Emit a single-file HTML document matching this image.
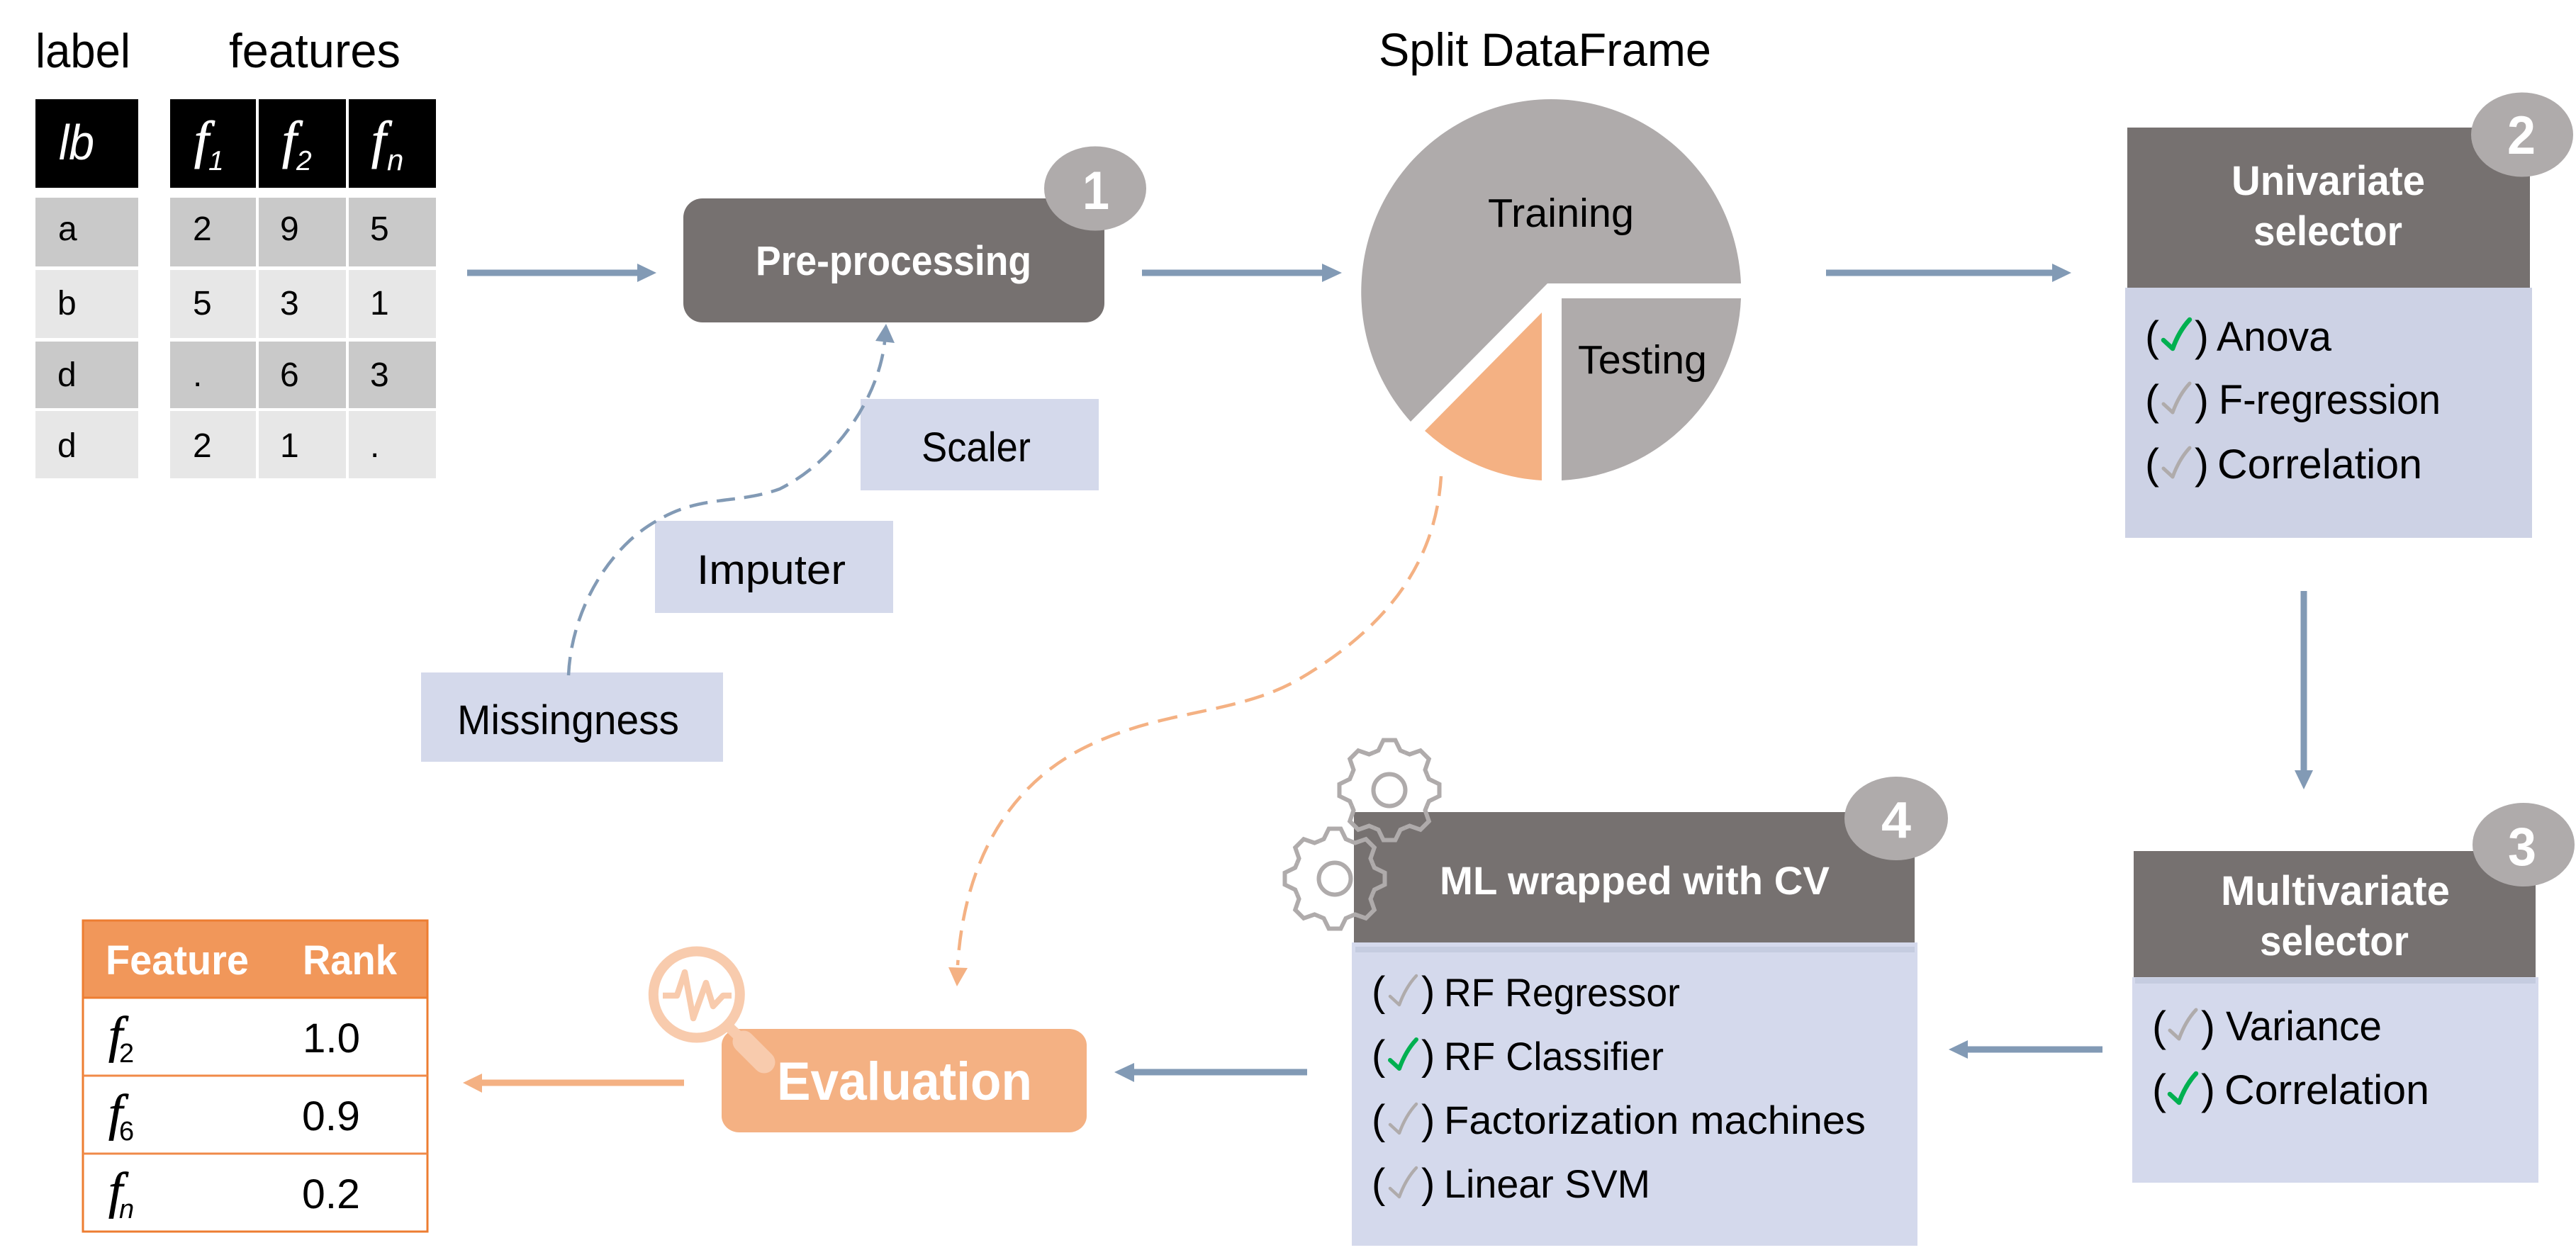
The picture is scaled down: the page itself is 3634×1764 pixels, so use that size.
<!DOCTYPE html>
<html><head><meta charset="utf-8"><title>Feature selection pipeline</title>
<style>
html,body{margin:0;padding:0;background:#fff}
svg{display:block}
text{font-family:"Liberation Sans",sans-serif;fill:#000}
.w{fill:#fff;font-weight:bold}
.i{font-style:italic}
.s{font-family:"Liberation Serif",serif;font-style:italic}
</style></head><body>
<svg xmlns="http://www.w3.org/2000/svg" width="3634" height="1764" viewBox="0 0 3634 1764">
<defs>
<path id="chk" fill="none" stroke-linecap="round" stroke-linejoin="round" d="M-13,-14 L0,-2 Q9,-27 24,-43"/>
<g id="gear" fill="none" stroke="#afabab" stroke-width="6" stroke-linejoin="miter">
<polyline points="-22,-53.1 -15.5,-55.9 -8.4,-70.5 8.4,-70.5 15.5,-55.9 22,-53.1"/>
<polyline transform="rotate(45)" points="-22,-53.1 -15.5,-55.9 -8.4,-70.5 8.4,-70.5 15.5,-55.9 22,-53.1"/>
<polyline transform="rotate(90)" points="-22,-53.1 -15.5,-55.9 -8.4,-70.5 8.4,-70.5 15.5,-55.9 22,-53.1"/>
<polyline transform="rotate(135)" points="-22,-53.1 -15.5,-55.9 -8.4,-70.5 8.4,-70.5 15.5,-55.9 22,-53.1"/>
<polyline transform="rotate(180)" points="-22,-53.1 -15.5,-55.9 -8.4,-70.5 8.4,-70.5 15.5,-55.9 22,-53.1"/>
<polyline transform="rotate(225)" points="-22,-53.1 -15.5,-55.9 -8.4,-70.5 8.4,-70.5 15.5,-55.9 22,-53.1"/>
<polyline transform="rotate(270)" points="-22,-53.1 -15.5,-55.9 -8.4,-70.5 8.4,-70.5 15.5,-55.9 22,-53.1"/>
<polyline transform="rotate(315)" points="-22,-53.1 -15.5,-55.9 -8.4,-70.5 8.4,-70.5 15.5,-55.9 22,-53.1"/>
<circle r="22.5"/>
</g>
</defs>

<!-- Data table -->
<text x="50" y="95" font-size="68" textLength="134" lengthAdjust="spacingAndGlyphs">label</text>
<text x="323" y="95" font-size="68" textLength="242" lengthAdjust="spacingAndGlyphs">features</text>
<rect x="50" y="140" width="145" height="125" fill="#000"/>
<rect x="240" y="140" width="121" height="125" fill="#000"/>
<rect x="365" y="140" width="123" height="125" fill="#000"/>
<rect x="492" y="140" width="123" height="125" fill="#000"/>
<g fill="#c9c9c9">
<rect x="50" y="279" width="145" height="97"/><rect x="240" y="279" width="121" height="97"/><rect x="365" y="279" width="123" height="97"/><rect x="492" y="279" width="123" height="97"/>
<rect x="50" y="482" width="145" height="94"/><rect x="240" y="482" width="121" height="94"/><rect x="365" y="482" width="123" height="94"/><rect x="492" y="482" width="123" height="94"/>
</g>
<g fill="#e7e7e7">
<rect x="50" y="381" width="145" height="96"/><rect x="240" y="381" width="121" height="96"/><rect x="365" y="381" width="123" height="96"/><rect x="492" y="381" width="123" height="96"/>
<rect x="50" y="580" width="145" height="95"/><rect x="240" y="580" width="121" height="95"/><rect x="365" y="580" width="123" height="95"/><rect x="492" y="580" width="123" height="95"/>
</g>
<text class="i" x="83" y="225" font-size="70" style="fill:#fff" textLength="50" lengthAdjust="spacingAndGlyphs">lb</text>
<text class="s" x="274" y="222" font-size="74" style="fill:#fff;stroke:#fff;stroke-width:1">f</text>
<text class="i" x="294" y="240" font-size="39" style="fill:#fff">1</text>
<text class="s" x="398" y="222" font-size="74" style="fill:#fff;stroke:#fff;stroke-width:1">f</text>
<text class="i" x="418" y="240" font-size="39" style="fill:#fff">2</text>
<text class="s" x="524" y="222" font-size="74" style="fill:#fff;stroke:#fff;stroke-width:1">f</text>
<text class="i" x="546" y="240" font-size="42" style="fill:#fff">n</text>
<g font-size="48">
<text x="82" y="339">a</text><text x="272" y="339">2</text><text x="395" y="339">9</text><text x="522" y="339">5</text>
<text x="81" y="444">b</text><text x="272" y="444">5</text><text x="395" y="444">3</text><text x="522" y="444">1</text>
<text x="81" y="545">d</text><text x="272" y="545">.</text><text x="395" y="545">6</text><text x="522" y="545">3</text>
<text x="81" y="645">d</text><text x="272" y="645">2</text><text x="395" y="645">1</text><text x="522" y="645">.</text>
</g>

<!-- Flow arrows -->
<g fill="#829ab5">
<rect x="659" y="380.5" width="241" height="9"/><polygon points="899,372 926,385 899,398"/>
<rect x="1611" y="380.5" width="255" height="9"/><polygon points="1865,372 1893,385 1865,398"/>
<rect x="2576" y="380.5" width="320" height="9"/><polygon points="2895,372 2922,385 2895,398"/>
<rect x="3245.5" y="834" width="9" height="254"/><polygon points="3237,1087 3263,1087 3250,1114"/>
<rect x="2775" y="1476.5" width="191" height="9"/><polygon points="2776,1468 2776,1494 2749,1481"/>
<rect x="1599" y="1508.5" width="245" height="9"/><polygon points="1600,1500 1600,1527 1572,1513"/>
</g>

<!-- Pre-processing -->
<rect x="964" y="280" width="594" height="175" rx="27" ry="27" fill="#767170"/>
<ellipse cx="1545" cy="266" rx="72" ry="59.5" fill="#afabab"/>
<text class="w" x="1527" y="295" font-size="76" textLength="38" lengthAdjust="spacingAndGlyphs">1</text>
<text class="w" x="1066" y="388" font-size="58" textLength="389" lengthAdjust="spacingAndGlyphs">Pre-processing</text>

<g fill="#d4d9eb">
<rect x="1214" y="563" width="336" height="129"/>
<rect x="924" y="735" width="336" height="130"/>
<rect x="594" y="949" width="426" height="126"/>
</g>
<text x="1300" y="651" font-size="58" textLength="154" lengthAdjust="spacingAndGlyphs">Scaler</text>
<text x="983" y="824" font-size="58" textLength="210" lengthAdjust="spacingAndGlyphs">Imputer</text>
<text x="645" y="1036" font-size="58" textLength="313" lengthAdjust="spacingAndGlyphs">Missingness</text>

<path d="M802,953 C806,860 860,770 930,733 C990,698 1040,712 1100,690 C1180,650 1240,560 1248,482" fill="none" stroke="#829ab5" stroke-width="4.5" stroke-dasharray="26 13"/>
<polygon points="1250,457 1235,481 1262,484" fill="#829ab5"/>

<!-- Pie -->
<text x="1945" y="93" font-size="66" textLength="469" lengthAdjust="spacingAndGlyphs">Split DataFrame</text>
<path d="M2183,400 L2456,400 A268,272 0 1 0 1990,595 Z" fill="#afabab"/>
<path d="M2203,421 L2456,421 A268,268 0 0 1 2203,678 Z" fill="#afabab"/>
<path d="M2175,441 L2175,678 A268,268 0 0 1 2010,608 Z" fill="#f4b183"/>
<text x="2099" y="320" font-size="57" textLength="206" lengthAdjust="spacingAndGlyphs">Training</text>
<text x="2226" y="527" font-size="57" textLength="182" lengthAdjust="spacingAndGlyphs">Testing</text>

<path d="M2033,672 C2025,800 1950,890 1830,960 C1740,1010 1640,1000 1530,1055 C1420,1110 1360,1220 1351,1362" fill="none" stroke="#f4b183" stroke-width="4.5" stroke-dasharray="28 14"/>
<polygon points="1338,1365 1365,1366 1350,1392" fill="#f4b183"/>

<!-- Univariate -->
<rect x="3001" y="180" width="568" height="226" fill="#767170"/>
<rect x="2998" y="406" width="574" height="353" fill="#cdd2e5"/>
<ellipse cx="3558" cy="190" rx="72" ry="59.5" fill="#afabab"/>
<text class="w" x="3537" y="217" font-size="76" textLength="40" lengthAdjust="spacingAndGlyphs">2</text>
<text class="w" x="3148" y="275" font-size="58" textLength="273" lengthAdjust="spacingAndGlyphs">Univariate</text>
<text class="w" x="3179" y="346" font-size="58" textLength="210" lengthAdjust="spacingAndGlyphs">selector</text>
<g font-size="60">
<text x="3026" y="495">(</text><text x="3096" y="495">)</text>
<text x="3026" y="585">(</text><text x="3096" y="585">)</text>
<text x="3026" y="675">(</text><text x="3096" y="675">)</text>
</g>
<use href="#chk" x="3065" y="494" stroke="#00b050" stroke-width="6.5"/>
<use href="#chk" x="3065" y="584" stroke="#afabab" stroke-width="5"/>
<use href="#chk" x="3065" y="675" stroke="#afabab" stroke-width="5"/>
<text x="3127" y="495" font-size="58" textLength="162" lengthAdjust="spacingAndGlyphs">Anova</text>
<text x="3130" y="584" font-size="58" textLength="313" lengthAdjust="spacingAndGlyphs">F-regression</text>
<text x="3128" y="675" font-size="58" textLength="289" lengthAdjust="spacingAndGlyphs">Correlation</text>

<!-- Multivariate -->
<rect x="3010" y="1201" width="567" height="178" fill="#767170"/>
<rect x="3008" y="1379" width="573" height="290" fill="#d4d9ec"/>
<rect x="3012" y="1380" width="565" height="8" fill="#c5cce0"/>
<ellipse cx="3560" cy="1192" rx="72" ry="59" fill="#afabab"/>
<text class="w" x="3538" y="1221" font-size="76" textLength="40" lengthAdjust="spacingAndGlyphs">3</text>
<text class="w" x="3133" y="1277" font-size="58" textLength="323" lengthAdjust="spacingAndGlyphs">Multivariate</text>
<text class="w" x="3188" y="1348" font-size="58" textLength="210" lengthAdjust="spacingAndGlyphs">selector</text>
<g font-size="60">
<text x="3036" y="1469">(</text><text x="3105" y="1469">)</text>
<text x="3036" y="1558">(</text><text x="3105" y="1558">)</text>
</g>
<use href="#chk" x="3074" y="1468" stroke="#afabab" stroke-width="5"/>
<use href="#chk" x="3074" y="1558" stroke="#00b050" stroke-width="6.5"/>
<text x="3140" y="1468" font-size="58" textLength="220" lengthAdjust="spacingAndGlyphs">Variance</text>
<text x="3138" y="1558" font-size="58" textLength="289" lengthAdjust="spacingAndGlyphs">Correlation</text>

<!-- ML -->
<rect x="1910" y="1146" width="791" height="184" fill="#767170"/>
<rect x="1907" y="1330" width="798" height="428" fill="#d4d9ec"/>
<rect x="1912" y="1336" width="789" height="8" fill="#c5cce0"/>
<use href="#gear" transform="translate(1960,1115)"/>
<use href="#gear" transform="translate(1883,1240)"/>
<ellipse cx="2675" cy="1155" rx="73" ry="59" fill="#afabab"/>
<text class="w" x="2654" y="1182" font-size="72" textLength="42" lengthAdjust="spacingAndGlyphs">4</text>
<text class="w" x="2031" y="1262" font-size="56" textLength="550" lengthAdjust="spacingAndGlyphs">ML wrapped with CV</text>
<g font-size="58">
<text x="1935" y="1419">(</text><text x="2005" y="1419">)</text>
<text x="1935" y="1509">(</text><text x="2005" y="1509">)</text>
<text x="1935" y="1600">(</text><text x="2005" y="1600">)</text>
<text x="1935" y="1690">(</text><text x="2005" y="1690">)</text>
</g>
<use href="#chk" x="1974" y="1420" stroke="#afabab" stroke-width="4.5"/>
<use href="#chk" x="1974" y="1510" stroke="#00b050" stroke-width="6"/>
<use href="#chk" x="1974" y="1601" stroke="#afabab" stroke-width="4.5"/>
<use href="#chk" x="1974" y="1691" stroke="#afabab" stroke-width="4.5"/>
<text x="2037" y="1420" font-size="56" textLength="333" lengthAdjust="spacingAndGlyphs">RF Regressor</text>
<text x="2037" y="1510" font-size="56" textLength="310" lengthAdjust="spacingAndGlyphs">RF Classifier</text>
<text x="2037" y="1600" font-size="56" textLength="595" lengthAdjust="spacingAndGlyphs">Factorization machines</text>
<text x="2037" y="1690" font-size="56" textLength="291" lengthAdjust="spacingAndGlyphs">Linear SVM</text>

<!-- Evaluation -->
<rect x="1018" y="1452" width="515" height="146" rx="25" ry="23" fill="#f4b183"/>
<g stroke="#f8cbad" fill="none">
<circle cx="982.8" cy="1403.5" r="61" stroke-width="14" fill="#fff"/>
<line x1="1028" y1="1449" x2="1050" y2="1470" stroke-width="15"/>
<line x1="1049" y1="1470" x2="1078" y2="1499" stroke-width="31" stroke-linecap="round"/>
<polyline points="935,1405 955,1405 966,1372 978,1437 996,1387 1006,1420 1020,1405 1032,1405" stroke-width="8.5" stroke-linejoin="round"/>
</g>
<text class="w" x="1096" y="1552" font-size="76" textLength="360" lengthAdjust="spacingAndGlyphs">Evaluation</text>
<rect x="680" y="1523.5" width="285" height="9" fill="#f4b183"/>
<polygon points="680,1515 680,1542 653,1528" fill="#f4b183"/>

<!-- Rank table -->
<rect x="117" y="1299" width="486" height="109" fill="#f1975a"/>
<rect x="117" y="1299" width="486" height="439" fill="none" stroke="#ed7d31" stroke-width="3"/>
<line x1="117" y1="1408" x2="603" y2="1408" stroke="#ed7d31" stroke-width="3"/>
<line x1="117" y1="1518" x2="603" y2="1518" stroke="#f08a48" stroke-width="3"/>
<line x1="117" y1="1628" x2="603" y2="1628" stroke="#f08a48" stroke-width="3"/>
<text class="w" x="149" y="1375" font-size="58" textLength="202" lengthAdjust="spacingAndGlyphs">Feature</text>
<text class="w" x="427" y="1375" font-size="58" textLength="133" lengthAdjust="spacingAndGlyphs">Rank</text>
<text class="s" x="153" y="1484" font-size="72" style="stroke:#000;stroke-width:.8">f</text><text x="168" y="1499" font-size="38">2</text>
<text class="s" x="153" y="1594" font-size="72" style="stroke:#000;stroke-width:.8">f</text><text x="168" y="1609" font-size="38">6</text>
<text class="s" x="153" y="1704" font-size="72" style="stroke:#000;stroke-width:.8">f</text><text class="i" x="168" y="1719" font-size="38">n</text>
<text x="427" y="1485" font-size="58" textLength="81" lengthAdjust="spacingAndGlyphs">1.0</text>
<text x="426" y="1595" font-size="58" textLength="82" lengthAdjust="spacingAndGlyphs">0.9</text>
<text x="426" y="1705" font-size="58" textLength="82" lengthAdjust="spacingAndGlyphs">0.2</text>
</svg>
</body></html>
